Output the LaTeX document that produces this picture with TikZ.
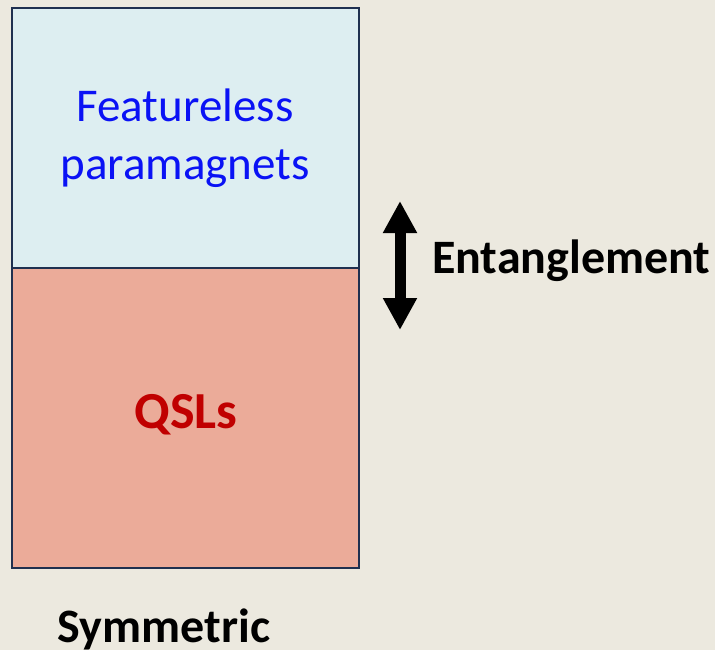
\documentclass[tikz,border=0pt]{standalone}
\usepackage{fontspec}
\setmainfont{Carlito}
\usetikzlibrary{arrows.meta}
\definecolor{bgcol}{HTML}{ECE9DF}
\definecolor{topfill}{HTML}{DDEEF1}
\definecolor{botfill}{HTML}{EBAB99}
\definecolor{edgecol}{HTML}{1F3050}
\definecolor{paracol}{HTML}{0A12F5}
\definecolor{qslcol}{HTML}{C00000}
\tikzset{
  x=1pt, y=-1pt,
  panel/.style={draw=edgecol, line width=2pt},
  label/.style={font=\fontsize{47}{57}\selectfont, inner sep=0pt, anchor=base},
  biglabel/.style={font=\fontsize{48}{56}\selectfont\bfseries, inner sep=0pt, anchor=base},
  bigarrow/.style={line width=11pt, -{Triangle[width=32pt,length=32pt]}}
}
\begin{document}
\begin{tikzpicture}
  % canvas
  \fill[bgcol] (0,0) rectangle (715,650);
  \useasboundingbox (0,0) rectangle (715,650);
  % the two phases
  \filldraw[panel, fill=topfill] (12,8) rectangle (359,268);
  \filldraw[panel, fill=botfill] (12,268) rectangle (359,568);
  \node[label, text=paracol] (para1) at (185,122) {Featureless};
  \node[label, text=paracol] (para2) at (185,179) {paramagnets};
  \node[biglabel, text=qslcol, font=\fontsize{52}{60}\selectfont\bfseries] (qsl) at (186,428) {QSLs};
  \node[biglabel] (sym) at (164,642) {Symmetric};
  % entanglement axis
  \coordinate (mid) at (400,265);
  \coordinate (up) at (400,201);
  \coordinate (down) at (400,330);
  \draw[bigarrow] (mid) -- (up);
  \draw[bigarrow] (mid) -- (down);
  \node[biglabel, anchor=base west] (ent) at (432,273) {Entanglement};
\end{tikzpicture}
\end{document}
